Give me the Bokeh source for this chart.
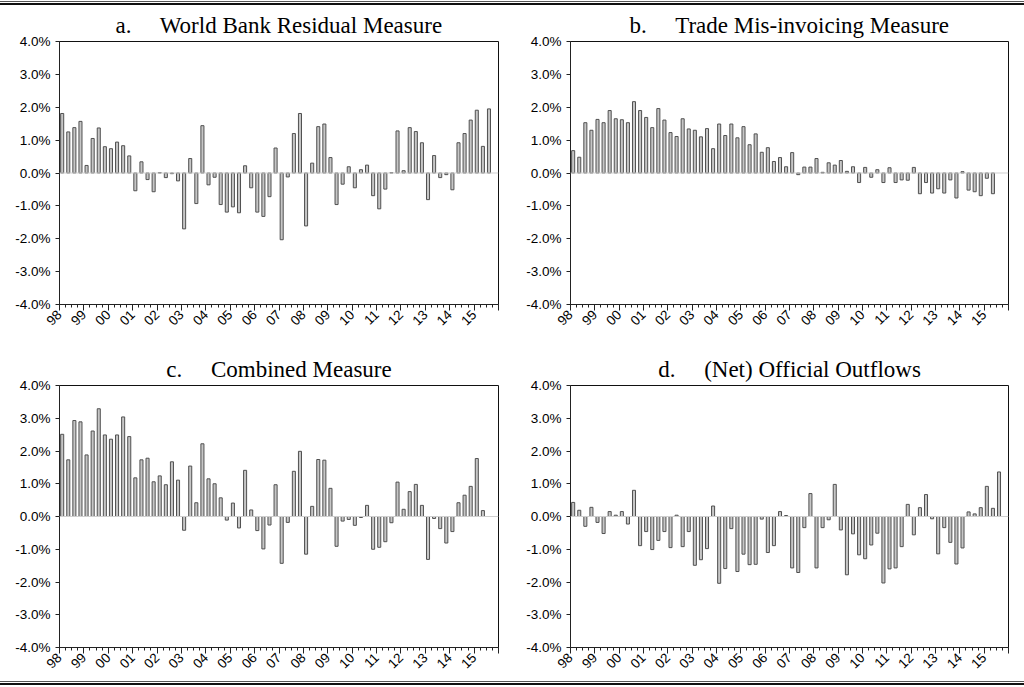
import math
from bokeh.plotting import figure
from bokeh.layouts import column, row
from bokeh.models import FixedTicker, PrintfTickFormatter, Span, Range1d, Div
from bokeh.embed import file_html
from bokeh.resources import INLINE

# ---------------- data (percent of GDP, quarterly from 1998Q1) ----------------
start_year = 1998
end_year = 2016
year_labels = ["98", "99", "00", "01", "02", "03", "04", "05", "06",
               "07", "08", "09", "10", "11", "12", "13", "14", "15"]

world_bank_residual = [
    1.81, 1.25, 1.38, 1.57, 0.23, 1.05, 1.37, 0.80, 0.74, 0.94,
    0.83, 0.52, -0.54, 0.34, -0.20, -0.57, 0.01, -0.14, -0.02, -0.24,
    -1.70, 0.44, -0.93, 1.44, -0.36, -0.13, -0.96, -1.19, -1.03, -1.21,
    0.22, -0.45, -1.19, -1.32, -0.72, 0.76, -2.03, -0.12, 1.20, 1.81,
    -1.61, 0.30, 1.41, 1.49, 0.47, -0.96, -0.34, 0.19, -0.45, 0.10,
    0.24, -0.69, -1.09, -0.49, 0.01, 1.28, 0.07, 1.38, 1.26, 0.92,
    -0.81, 0.53, -0.14, -0.05, -0.51, 0.92, 1.20, 1.61, 1.91, 0.81, 1.95]

trade_misinvoicing = [
    0.68, 0.48, 1.53, 1.30, 1.63, 1.53, 1.90, 1.65, 1.62, 1.53,
    2.17, 1.90, 1.69, 1.38, 1.96, 1.61, 1.23, 1.11, 1.65, 1.34,
    1.30, 1.10, 1.35, 0.74, 1.49, 1.14, 1.49, 1.07, 1.41, 0.86,
    1.19, 0.63, 0.77, 0.35, 0.47, 0.19, 0.62, -0.05, 0.18, 0.18,
    0.44, 0.02, 0.31, 0.24, 0.38, 0.05, 0.19, -0.29, 0.17, -0.13,
    0.10, -0.29, 0.16, -0.29, -0.21, -0.22, 0.17, -0.63, -0.29, -0.61,
    -0.48, -0.61, -0.21, -0.76, 0.04, -0.52, -0.57, -0.69, -0.16, -0.63]

combined = [
    2.51, 1.73, 2.93, 2.89, 1.88, 2.61, 3.29, 2.49, 2.36, 2.49,
    3.04, 2.44, 1.18, 1.73, 1.78, 1.06, 1.24, 0.97, 1.67, 1.11,
    -0.42, 1.54, 0.42, 2.22, 1.15, 1.00, 0.57, -0.11, 0.41, -0.35,
    1.41, 0.20, -0.43, -0.99, -0.26, 0.97, -1.43, -0.18, 1.38, 1.99,
    -1.15, 0.31, 1.74, 1.72, 0.86, -0.91, -0.14, -0.09, -0.27, -0.03,
    0.34, -1.00, -0.94, -0.77, -0.19, 1.05, 0.22, 0.76, 0.98, 0.34,
    -1.31, -0.06, -0.37, -0.81, -0.46, 0.42, 0.65, 0.92, 1.77, 0.18]

official_outflows = [
    0.43, 0.19, -0.30, 0.28, -0.18, -0.52, 0.15, 0.04, 0.15, -0.23,
    0.80, -0.89, -0.46, -1.01, -0.73, -0.46, -0.95, 0.04, -0.92, -0.46,
    -1.49, -1.32, -0.98, 0.32, -2.04, -1.59, -0.37, -1.68, -1.15, -1.47,
    -1.46, -0.08, -1.10, -0.89, 0.15, 0.03, -1.57, -1.71, -0.34, 0.70,
    -1.57, -0.34, -0.10, 0.98, -0.41, -1.78, -0.53, -1.17, -1.29, -0.87,
    -0.51, -2.03, -1.60, -1.57, -0.92, 0.37, -0.56, 0.27, 0.67, -0.07,
    -1.14, -0.34, -0.79, -1.45, -0.96, 0.14, 0.08, 0.27, 0.92, 0.25, 1.36]

titles = ["a.\u00a0\u00a0\u00a0\u00a0 World Bank Residual Measure",
          "b.\u00a0\u00a0\u00a0\u00a0 Trade Mis-invoicing Measure",
          "c.\u00a0\u00a0\u00a0\u00a0 Combined Measure",
          "d.\u00a0\u00a0\u00a0\u00a0 (Net) Official Outflows"]

y_ticks = [-4, -3, -2, -1, 0, 1, 2, 3, 4]

# ---------------- panel builder ----------------
def panel(values, title, width, height, left, right, top, bottom):
    x = [start_year + i / 4 + 0.11 for i in range(len(values))]
    p = figure(width=width, height=height,
               x_range=Range1d(start_year, end_year), y_range=Range1d(-4, 4),
               output_backend="svg", toolbar_location=None,
               min_border_left=left, min_border_right=right,
               min_border_top=top, min_border_bottom=bottom,
               background_fill_color="white", border_fill_color="white")
    p.title.text = title
    p.title.align = "center"
    p.title.text_font = "Liberation Serif"
    p.title.text_font_style = "normal"
    p.title.text_font_size = "23px"
    p.title.text_color = "black"
    p.title.standoff = 8

    p.vbar(x=x, top=values, bottom=0, width=0.125,
           fill_color="#c6c6c6", line_color="#505050", line_width=1)
    p.add_layout(Span(location=0, dimension="width",
                      line_color="#cfcfcf", line_width=1))

    years = list(range(start_year, end_year + 1))
    quarters = [y + q / 4 for y in range(start_year, end_year) for q in range(1, 4)]
    p.xaxis.ticker = FixedTicker(ticks=years, minor_ticks=quarters)
    overrides = {y: lab for y, lab in zip(years, year_labels)}
    overrides[end_year] = ""
    p.xaxis.major_label_overrides = overrides
    p.xaxis.major_label_orientation = math.pi / 4
    p.xaxis.major_tick_out = 6
    p.xaxis.major_tick_in = 0
    p.xaxis.minor_tick_out = 3
    p.xaxis.minor_tick_in = 0
    p.xaxis.major_label_standoff = 2

    p.yaxis.ticker = FixedTicker(ticks=y_ticks)
    p.yaxis.formatter = PrintfTickFormatter(format="%.1f%%")
    p.yaxis.minor_tick_line_color = None
    p.yaxis.major_tick_out = 4
    p.yaxis.major_tick_in = 0
    p.yaxis.major_label_standoff = 5

    for ax in (p.xaxis, p.yaxis):
        ax.axis_line_color = "#222222"
        ax.major_tick_line_color = "#222222"
        ax.major_label_text_font = "Liberation Sans"
        ax.major_label_text_font_size = "13.5px"
        ax.major_label_text_color = "black"
    p.xaxis.minor_tick_line_color = "#222222"

    p.xgrid.grid_line_color = None
    p.ygrid.grid_line_color = None
    p.outline_line_color = "#111111"
    p.outline_line_width = 1
    return p


def rule(height, pad_top):
    return Div(text="", width=1024, height=height, margin=0,
               styles={"box-sizing": "border-box",
                       "margin-top": f"{pad_top}px",
                       "border-top": "1px solid #555555",
                       "border-bottom": "2px solid #111111",
                       "background-color": "white"})


pa = panel(world_bank_residual, titles[0], 510, 338, 59, 12, 36, 39)
pb = panel(trade_misinvoicing, titles[1], 514, 338, 60, 16, 36, 39)
pc = panel(combined, titles[2], 510, 334, 59, 12, 42, 30)
pd = panel(official_outflows, titles[3], 514, 334, 60, 16, 42, 30)

top_rule = rule(4, 1)
bottom_rule = rule(4, 4)

layout = column(top_rule, row(pa, pb), row(pc, pd), bottom_rule)

open("out.html", "w").write(file_html(layout, INLINE, title="Capital flight measures"))
